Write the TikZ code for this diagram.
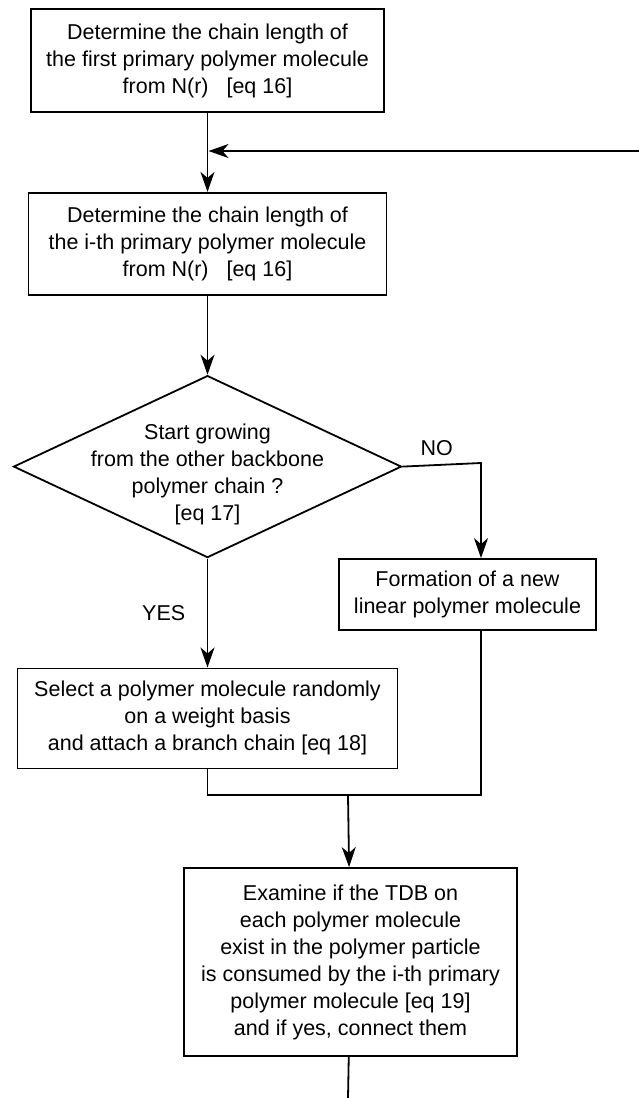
\documentclass[tikz,border=0pt]{standalone}
\usepackage{fontspec}
\setmainfont{Liberation Sans}
\usetikzlibrary{positioning, arrows.meta, shapes.geometric, calc}

\begin{document}
\begin{tikzpicture}[
    x=1pt, y=-1pt,
    block/.style={draw, rectangle, align=center, line width=1.8pt, inner sep=3pt},
    decision/.style={draw, diamond, line width=1.8pt, inner sep=0pt, minimum width=388pt, minimum height=182pt},
    line/.style={line width=1.8pt},
    arrow/.style={line, -{Stealth[length=20pt, width=14pt, inset=6pt]}},
    every node/.style={font=\fontsize{21.5pt}{27pt}\selectfont}
]
\useasboundingbox (0,0) rectangle (639,1098);

% Nodes
\node (first) [block, minimum width=353pt, minimum height=103pt] at (207.5,60.5) {Determine the chain length of\\the first primary polymer molecule\\from N(r)~~~[eq 16]};
\node (ith) [block, below=79pt of first, minimum width=358pt, minimum height=102pt] {Determine the chain length of\\the i-th primary polymer molecule\\from N(r)~~~[eq 16]};
\node (grow) [decision, below=79pt of ith,
    label={[align=center, yshift=-8pt]center:Start growing\\from the other backbone\\polymer chain ?\\{}[eq 17]}] {};
\node (branch) [block, below=109pt of grow, minimum width=380pt, minimum height=100pt] {Select a polymer molecule randomly\\on a weight basis\\and attach a branch chain [eq 18]};
\node (linear) [block, minimum width=257pt, minimum height=71pt] at (467.5,594.5) {Formation of a new\\linear polymer molecule};
\node (tdb) [block, minimum width=333pt, minimum height=188pt] at (350.5,962) {Examine if the TDB on\\each polymer molecule\\exist in the polymer particle\\is consumed by the i-th primary\\polymer molecule [eq 19]\\and if yes, connect them};

% Loose ends and bends
\coordinate (loopin) at (639,151);
\coordinate (nobend) at (481,463);
\coordinate (join) at (348,795);
\coordinate (out) at (348,1098);

% Connections
\draw [arrow] (first) -- (ith);
\draw [arrow] (loopin) -- ([xshift=1pt]first.south |- loopin);
\draw [arrow] (ith) -- (grow);
\draw [arrow] (grow) -- node[left=18pt] {YES} (branch);
\draw [arrow] (grow.east) -- node[above=5pt, xshift=-5pt] {NO} (nobend) -- (nobend |- linear.north);
\draw [line] (branch.south) |- (join -| nobend) -- (linear.south -| nobend);
\draw [arrow] (join) -- (tdb);
\draw [line] (tdb) -- (out);

\end{tikzpicture}
\end{document}
